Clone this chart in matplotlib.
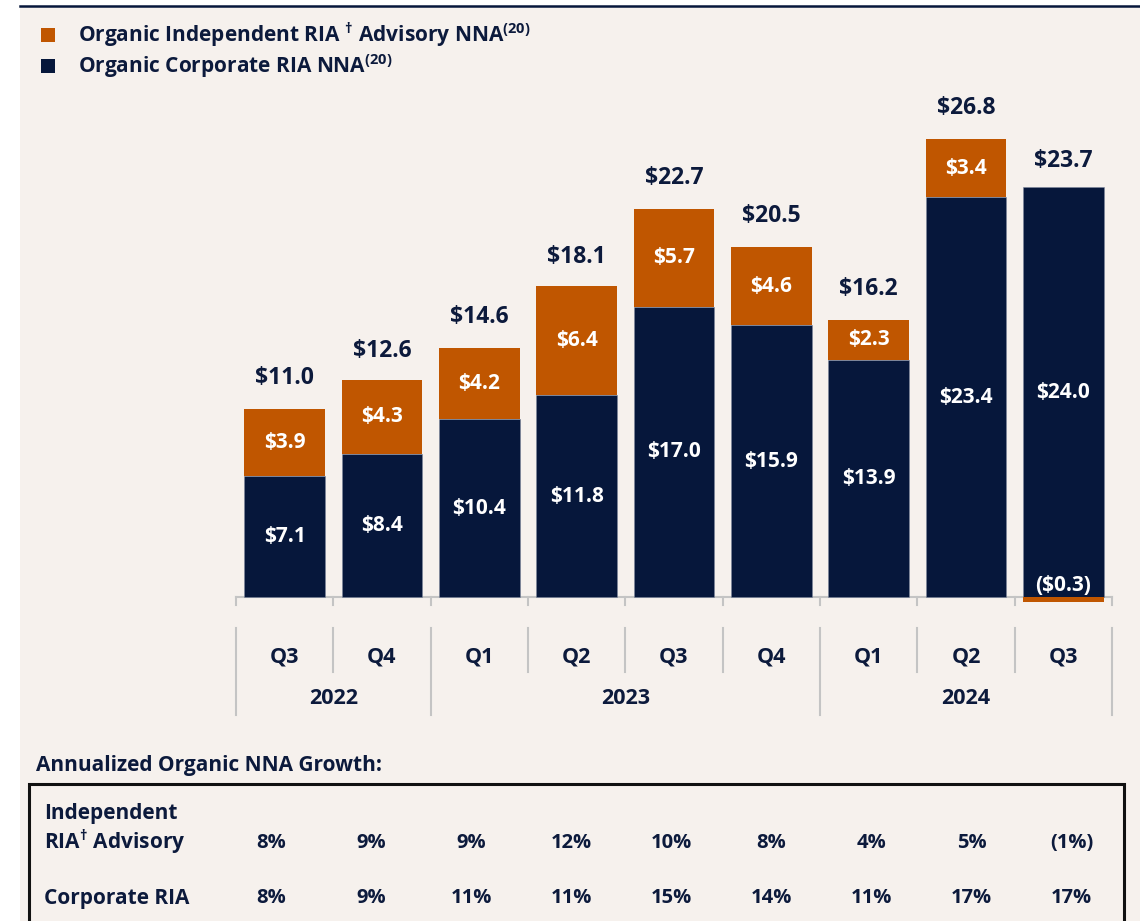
import matplotlib
matplotlib.use("Agg")
import matplotlib.pyplot as plt
from matplotlib.patches import Patch, Rectangle
from matplotlib.lines import Line2D

plt.rcParams['font.family'] = ['Open Sans', 'DejaVu Sans']
plt.rcParams['font.weight'] = 'bold'
plt.rcParams['mathtext.fontset'] = 'custom'
plt.rcParams['mathtext.rm'] = 'Open Sans:bold'
plt.rcParams['mathtext.bf'] = 'Open Sans:bold'

# data
quarters = ['Q3', 'Q4', 'Q1', 'Q2', 'Q3', 'Q4', 'Q1', 'Q2', 'Q3']
years = ['2022', '2023', '2024']
year_spans = [(0, 2), (2, 6), (6, 9)]
corporate = [7.1, 8.4, 10.4, 11.8, 17.0, 15.9, 13.9, 23.4, 24.0]
independent = [3.9, 4.3, 4.2, 6.4, 5.7, 4.6, 2.3, 3.4, -0.3]
totals = [11.0, 12.6, 14.6, 18.1, 22.7, 20.5, 16.2, 26.8, 23.7]
growth_independent = ['8%', '9%', '9%', '12%', '10%', '8%', '4%', '5%', '(1%)']
growth_corporate = ['8%', '9%', '11%', '11%', '15%', '14%', '11%', '17%', '17%']

NAVY = '#06173b'
ORANGE = '#c05600'
TEXT = '#0c1a3c'
BG = '#f6f1ed'
GRID = '#c4c4c4'

W, H = 1140, 921
fig = plt.figure(figsize=(W / 100, H / 100), dpi=100, facecolor='white')


def fx(x):
    return x / W


def fy(y):
    return 1 - y / H


# background panel and top rule
fig.patches.append(Rectangle((fx(20), 0), 1 - fx(20), fy(7), transform=fig.transFigure,
                             facecolor=BG, edgecolor='none', zorder=-5))
fig.lines.append(Line2D([fx(20), 1], [fy(6), fy(6)], transform=fig.transFigure,
                        color=NAVY, lw=1.8))

# bar axes: x -0.5..8.5 -> 236..1112 px, y 29.1..-7.2 -> 100..720 px
ax = fig.add_axes([fx(236), fy(720), fx(1112) - fx(236), fy(100) - fy(720)])
ax.set_xlim(-0.5, 8.5)
ax.set_ylim(-7.2, 29.1)
ax.axis('off')

x = range(len(quarters))
ax.bar(x, corporate, width=0.83, color=NAVY, edgecolor='#7d879c', linewidth=0.4, zorder=3)
pos_bottom = [c if v >= 0 else 0 for c, v in zip(corporate, independent)]
ax.bar(x, independent, bottom=pos_bottom, width=0.83, color=ORANGE, edgecolor='none', zorder=3)

for i in x:
    c = corporate[i]
    v = independent[i]
    ax.text(i, c / 2, f'${c:.1f}', color='white', ha='center', va='center', fontsize=15, zorder=5)
    if v >= 0:
        ax.text(i, c + v / 2, f'${v:.1f}', color='white', ha='center', va='center', fontsize=15, zorder=5)
    else:
        ax.text(i, 0.7, f'(${-v:.1f})', color='white', ha='center', va='center', fontsize=15, zorder=5)
    ax.annotate(f'${totals[i]:.1f}', (i, totals[i]), xytext=(0, 31), textcoords='offset pixels',
                ha='center', va='center', fontsize=16.5, color=TEXT)

# category axis
ax.plot([-0.5, 8.5], [0, 0], color=GRID, lw=1.5, zorder=2, clip_on=False)
for b in range(len(quarters) + 1):
    ax.plot([b - 0.5, b - 0.5], [0, -0.47], color=GRID, lw=1.5, zorder=2, clip_on=False)
year_edges = [s for s, e in year_spans] + [year_spans[-1][1]]
for b in range(len(quarters) + 1):
    low = -6.9 if b in year_edges else -4.4
    ax.plot([b - 0.5, b - 0.5], [-1.8, low], color=GRID, lw=1.5, clip_on=False)
for i, q in enumerate(quarters):
    ax.text(i, -3.5, q, ha='center', va='center', fontsize=15.5, color=TEXT)
for yr, (s, e) in zip(years, year_spans):
    ax.text((s + e - 1) / 2, -5.97, yr, ha='center', va='center', fontsize=15.5, color=TEXT)

# legend
handles = [Patch(facecolor=ORANGE), Patch(facecolor=NAVY)]
labels = [r'Organic Independent RIA $^{\dagger}$ Advisory NNA$^{\mathrm{(20)}}$',
          r'Organic Corporate RIA NNA$^{\mathrm{(20)}}$']
fig.legend(handles, labels, loc='upper left', bbox_to_anchor=(fx(22), fy(2)), frameon=False,
           fontsize=15, labelcolor=TEXT, handlelength=0.7, handleheight=0.7,
           handletextpad=1.1, labelspacing=0.15)

# growth table
fig.text(fx(36), fy(765), 'Annualized Organic NNA Growth:', fontsize=15, color=TEXT, va='center')
fig.patches.append(Rectangle((fx(29), fy(930)), fx(1124) - fx(29), fy(784) - fy(930),
                             transform=fig.transFigure, facecolor='none', edgecolor='#111111', lw=2.2))
fig.text(fx(44), fy(813), 'Independent', fontsize=15, color=TEXT, va='center')
fig.text(fx(44), fy(842), r'RIA$^{\dagger}$ Advisory', fontsize=15, color=TEXT, va='center')
fig.text(fx(44), fy(898), 'Corporate RIA', fontsize=15, color=TEXT, va='center')
for i in range(len(quarters)):
    cx = fx(271 + i * 100.1)
    fig.text(cx, fy(843), growth_independent[i], fontsize=14.5, color=TEXT, ha='center', va='center')
    fig.text(cx, fy(898), growth_corporate[i], fontsize=14.5, color=TEXT, ha='center', va='center')

fig.savefig('out.png', dpi=100, facecolor=fig.get_facecolor())
